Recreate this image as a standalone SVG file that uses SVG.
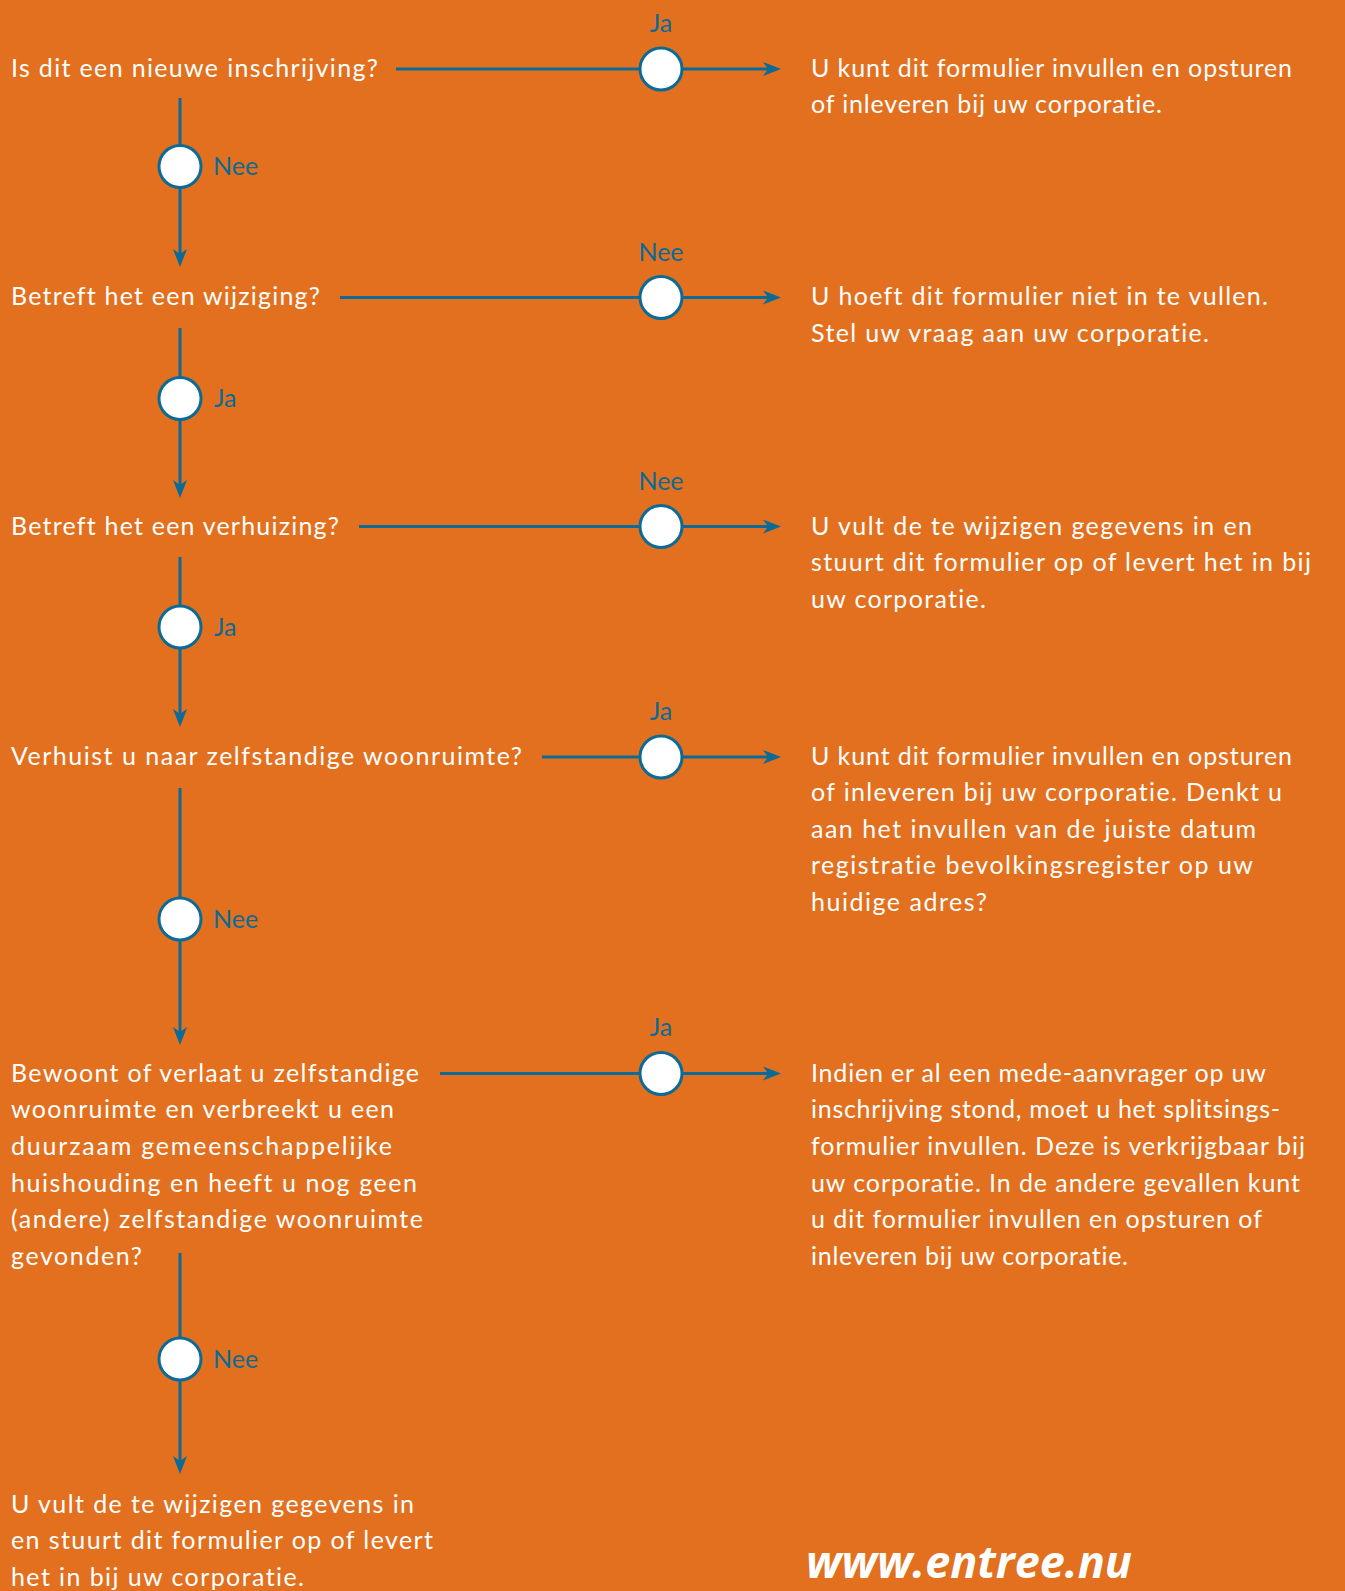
<svg xmlns="http://www.w3.org/2000/svg" width="1345" height="1591" viewBox="0 0 1345 1591">
<style>
text{font-variant-ligatures:none;font-feature-settings:"liga" 0,"dlig" 0}
.t{font-family:Lato,"Liberation Sans",sans-serif;font-size:25px;fill:#ffffff}
.l{font-family:Lato,"Liberation Sans",sans-serif;font-size:25px;fill:#0B6A96}
.c{fill:#ffffff;stroke:#0B6A96;stroke-width:3}
.ln{stroke:#0B6A96;stroke-width:3;fill:none}
</style>
<defs>
<marker id="ah" markerUnits="userSpaceOnUse" markerWidth="20" markerHeight="16" viewBox="0 0 20 16" refX="8" refY="7" orient="auto">
<path d="M0,0 L18,7 L0,14 L5,7 Z" fill="#0B6A96"/>
</marker>
</defs>
<rect width="1345" height="1591" fill="#E2701E"/>
<g id="connectors">
<line class="ln" x1="396" y1="69" x2="771" y2="69" marker-end="url(#ah)"/>
<line class="ln" x1="340" y1="297.5" x2="771" y2="297.5" marker-end="url(#ah)"/>
<line class="ln" x1="359" y1="526.5" x2="771" y2="526.5" marker-end="url(#ah)"/>
<line class="ln" x1="542" y1="757" x2="771" y2="757" marker-end="url(#ah)"/>
<line class="ln" x1="440" y1="1073.5" x2="771" y2="1073.5" marker-end="url(#ah)"/>
<line class="ln" x1="180" y1="98" x2="180" y2="257" marker-end="url(#ah)"/>
<line class="ln" x1="180" y1="328" x2="180" y2="488" marker-end="url(#ah)"/>
<line class="ln" x1="180" y1="557" x2="180" y2="717" marker-end="url(#ah)"/>
<line class="ln" x1="180" y1="788" x2="180" y2="1035" marker-end="url(#ah)"/>
<line class="ln" x1="180" y1="1253" x2="180" y2="1464" marker-end="url(#ah)"/>
</g>
<g id="q1">
<text class="t" x="11" y="76.5" textLength="367">Is dit een nieuwe inschrijving?</text>
</g>
<g id="d1">
<circle class="c" cx="661" cy="69" r="21"/>
<text class="l" x="661" y="32" text-anchor="middle">Ja</text>
</g>
<g id="a1">
<text class="t" x="811" y="76.5" textLength="481">U kunt dit formulier invullen en opsturen</text>
<text class="t" x="811" y="113" textLength="351">of inleveren bij uw corporatie.</text>
</g>
<g id="v1">
<circle class="c" cx="180" cy="166.5" r="21"/>
<text class="l" x="213" y="175">Nee</text>
</g>
<g id="q2">
<text class="t" x="11" y="305" textLength="309">Betreft het een wijziging?</text>
</g>
<g id="d2">
<circle class="c" cx="661" cy="297.5" r="21"/>
<text class="l" x="661" y="260.5" text-anchor="middle">Nee</text>
</g>
<g id="a2">
<text class="t" x="811" y="305" textLength="457">U hoeft dit formulier niet in te vullen.</text>
<text class="t" x="811" y="341.5" textLength="398">Stel uw vraag aan uw corporatie.</text>
</g>
<g id="v2">
<circle class="c" cx="180" cy="398.5" r="21"/>
<text class="l" x="214" y="407">Ja</text>
</g>
<g id="q3">
<text class="t" x="11" y="534.5" textLength="328">Betreft het een verhuizing?</text>
</g>
<g id="d3">
<circle class="c" cx="661" cy="526.5" r="21"/>
<text class="l" x="661" y="489.5" text-anchor="middle">Nee</text>
</g>
<g id="a3">
<text class="t" x="811" y="534.5" textLength="441">U vult de te wijzigen gegevens in en</text>
<text class="t" x="811" y="571" textLength="500">stuurt dit formulier op of levert het in bij</text>
<text class="t" x="811" y="607.5" textLength="175">uw corporatie.</text>
</g>
<g id="v3">
<circle class="c" cx="180" cy="627" r="21"/>
<text class="l" x="214" y="635.5">Ja</text>
</g>
<g id="q4">
<text class="t" x="11" y="764.5" textLength="511">Verhuist u naar zelfstandige woonruimte?</text>
</g>
<g id="d4">
<circle class="c" cx="661" cy="757" r="21"/>
<text class="l" x="661" y="720" text-anchor="middle">Ja</text>
</g>
<g id="a4">
<text class="t" x="811" y="764.5" textLength="481">U kunt dit formulier invullen en opsturen</text>
<text class="t" x="811" y="801" textLength="471">of inleveren bij uw corporatie. Denkt u</text>
<text class="t" x="811" y="837.5" textLength="445">aan het invullen van de juiste datum</text>
<text class="t" x="811" y="874" textLength="442">registratie bevolkingsregister op uw</text>
<text class="t" x="811" y="910.5" textLength="176">huidige adres?</text>
</g>
<g id="v4">
<circle class="c" cx="180" cy="919" r="21"/>
<text class="l" x="213" y="927.5">Nee</text>
</g>
<g id="q5">
<text class="t" x="11" y="1081.7" textLength="408">Bewoont of verlaat u zelfstandige</text>
<text class="t" x="11" y="1118.3" textLength="383">woonruimte en verbreekt u een</text>
<text class="t" x="11" y="1155" textLength="381">duurzaam gemeenschappelijke</text>
<text class="t" x="11" y="1191.7" textLength="406">huishouding en heeft u nog geen</text>
<text class="t" x="11" y="1228.3" textLength="412">(andere) zelfstandige woonruimte</text>
<text class="t" x="11" y="1265" textLength="131">gevonden?</text>
</g>
<g id="d5">
<circle class="c" cx="661" cy="1073.5" r="21"/>
<text class="l" x="661" y="1036" text-anchor="middle">Ja</text>
</g>
<g id="a5">
<text class="t" x="811" y="1081.7" textLength="455">Indien er al een mede-aanvrager op uw</text>
<text class="t" x="811" y="1118.3" textLength="469">inschrijving stond, moet u het splitsings-</text>
<text class="t" x="811" y="1155" textLength="494">formulier invullen. Deze is verkrijgbaar bij</text>
<text class="t" x="811" y="1191.7" textLength="489">uw corporatie. In de andere gevallen kunt</text>
<text class="t" x="811" y="1228.3" textLength="451">u dit formulier invullen en opsturen of</text>
<text class="t" x="811" y="1265" textLength="317">inleveren bij uw corporatie.</text>
</g>
<g id="v5">
<circle class="c" cx="180" cy="1359" r="21"/>
<text class="l" x="213" y="1367.5">Nee</text>
</g>
<g id="end">
<text class="t" x="11" y="1512.5" textLength="403">U vult de te wijzigen gegevens in</text>
<text class="t" x="11" y="1549" textLength="422">en stuurt dit formulier op of levert</text>
<text class="t" x="11" y="1585.5" textLength="293">het in bij uw corporatie.</text>
</g>
<g id="url">
<text x="806" y="1578" textLength="326" lengthAdjust="spacingAndGlyphs" style="font-family:'Open Sans','Liberation Sans',sans-serif;font-size:44px;font-weight:bold;font-style:italic;fill:#ffffff">www.entree.nu</text>
</g>
</svg>
